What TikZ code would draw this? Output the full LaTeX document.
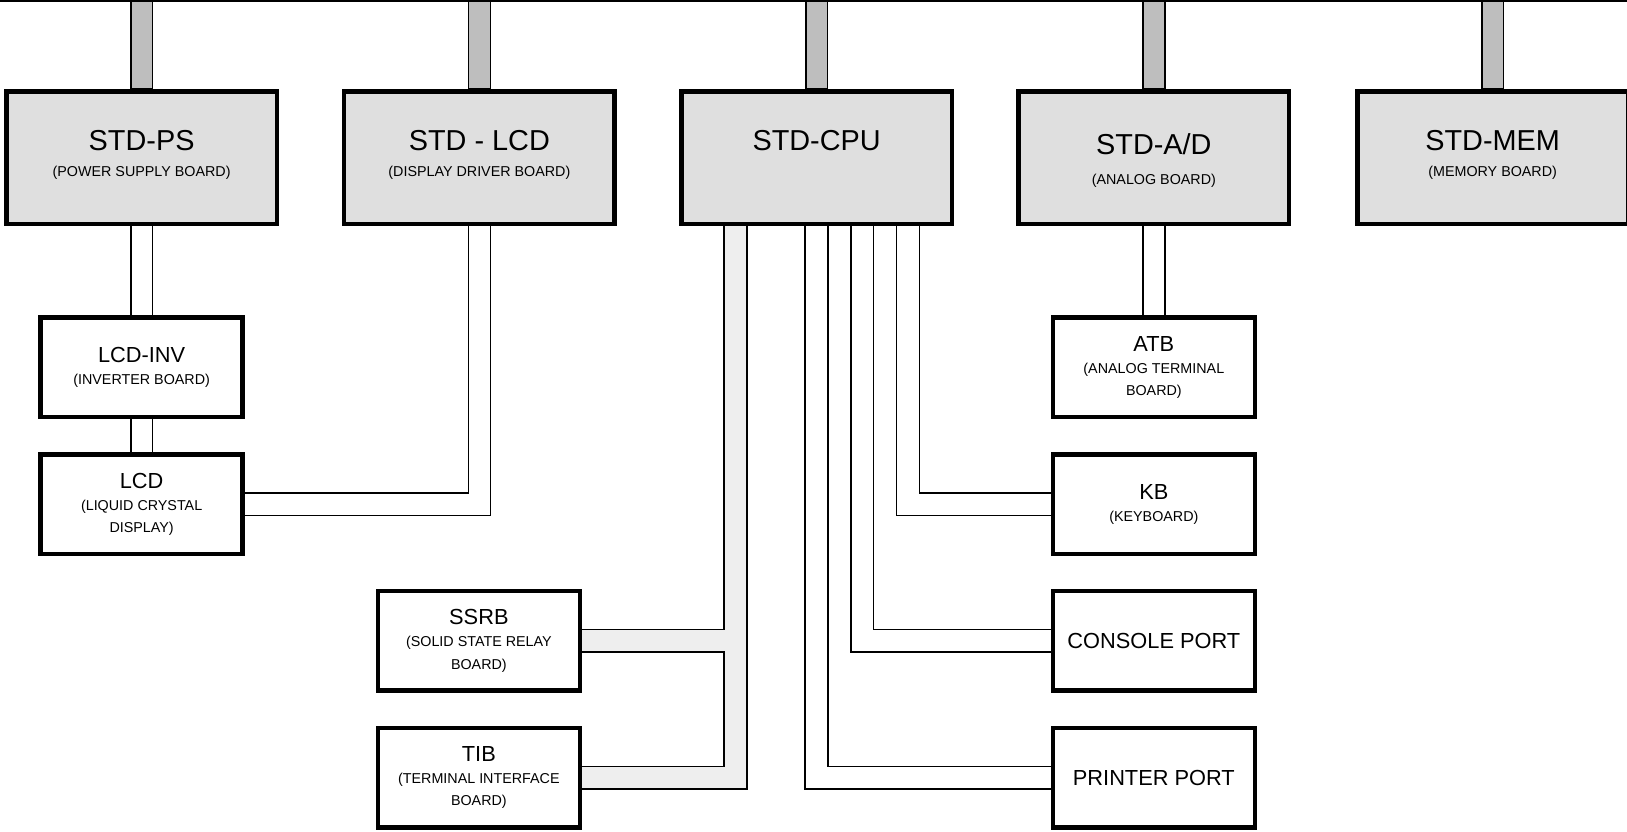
\documentclass[tikz,border=0pt]{standalone}
\usepackage{fontspec}
\setmainfont{Liberation Sans}
\usepackage{xcolor}
\usetikzlibrary{calc, backgrounds}
\definecolor{boardgray}{RGB}{223, 223, 223}
\definecolor{slotgray}{RGB}{190, 190, 190}
\definecolor{busgray}{RGB}{238, 238, 238}
\newcommand{\cardsub}[1]{{\fontsize{6.9}{10.7}\selectfont #1}}

\begin{document}
\begin{tikzpicture}[
  x=0.5pt, y=-0.5pt,
  board/.style={rectangle, draw, line width=2.2pt, fill=boardgray,
                minimum width=130.3pt, minimum height=63.8pt, inner sep=0pt},
  card/.style={rectangle, draw, line width=2.2pt, fill=white,
               minimum width=97.3pt, minimum height=47.8pt, inner sep=0pt,
               align=center, font={\fontsize{10.5}{10.7}\selectfont}},
  btitle/.style={anchor=base, inner sep=0pt, font={\fontsize{13.9}{14}\selectfont}},
  bsub/.style={anchor=base, inner sep=0pt, font={\fontsize{6.9}{8}\selectfont}},
  wire/.style={line width=0.75pt},
  slot/.style={draw, line width=0.75pt, fill=slotgray}
]
  \useasboundingbox (0,0) rectangle (1568,801);

  %% STD bus boards
  \node[board] (ps)  at (136.5,152) {};
  \node[board] (drv) at (462,152)   {};
  \node[board] (cpu) at (787,152)   {};
  \node[board] (ad)  at (1112,152)  {};
  \node[board] (mem) at (1438.5,152) {};

  \node[btitle] (psT)  at ([yshift=3.7pt]ps.center)   {STD-PS};
  \node[bsub]   (psS)  at ([yshift=-9.15pt]ps.center) {(POWER SUPPLY BOARD)};
  \node[btitle] (drvT) at ([yshift=3.7pt]drv.center)  {STD - LCD};
  \node[bsub]   (drvS) at ([yshift=-9.15pt]drv.center) {(DISPLAY DRIVER BOARD)};
  \node[btitle] (cpuT) at ([yshift=3.7pt]cpu.center)  {STD-CPU};
  \node[btitle] (adT)  at ([yshift=1.45pt]ad.center)  {STD-A/D};
  \node[bsub]   (adS)  at ([yshift=-12.9pt]ad.center) {(ANALOG BOARD)};
  \node[btitle] (memT) at ([yshift=3.7pt]mem.center)  {STD-MEM};
  \node[bsub]   (memS) at ([yshift=-9.15pt]mem.center) {(MEMORY BOARD)};

  %% Attached cards
  \node[card] (inv)  at (136.5,354)   {LCD-INV\\\cardsub{(INVERTER BOARD)}};
  \node[card] (lcd)  at (136.5,486)   {LCD\\\cardsub{(LIQUID CRYSTAL}\\\cardsub{DISPLAY)}};
  \node[card] (ssrb) at (461.5,617.5) {SSRB\\\cardsub{(SOLID STATE RELAY}\\\cardsub{BOARD)}};
  \node[card] (tib)  at (461.5,749.5) {TIB\\\cardsub{(TERMINAL INTERFACE}\\\cardsub{BOARD)}};
  \node[card] (atb)  at (1112,354)    {ATB\\\cardsub{(ANALOG TERMINAL}\\\cardsub{BOARD)}};
  \node[card] (kb)   at (1112,486)    {KB\\\cardsub{(KEYBOARD)}};
  \node[card] (con)  at (1112,617.5)  {CONSOLE PORT};
  \node[card] (prn)  at (1112,749.5)  {PRINTER PORT};

  %% Backplane
  \coordinate (topL) at (0,1);
  \coordinate (topR) at (1568,1);
  \draw[wire] (topL) -- (topR);

  \coordinate (busL)  at ([xshift=-44.5pt]cpu.south);
  \coordinate (busR)  at ([xshift=-33.5pt]cpu.south);
  \coordinate (ssrbU) at ([yshift=5.5pt]ssrb.east);
  \coordinate (ssrbD) at ([yshift=-5.5pt]ssrb.east);
  \coordinate (tibU)  at ([yshift=5.5pt]tib.east);
  \coordinate (tibD)  at ([yshift=-5.5pt]tib.east);

  \begin{scope}[on background layer]
    \draw[slot] ([xshift=-5.25pt]ps.north)  rectangle ++(10.5pt,43.5pt);
    \draw[slot] ([xshift=-5.25pt]drv.north) rectangle ++(10.5pt,43.5pt);
    \draw[slot] ([xshift=-5.25pt]cpu.north) rectangle ++(10.5pt,43.5pt);
    \draw[slot] ([xshift=-5.25pt]ad.north)  rectangle ++(10.5pt,43.5pt);
    \draw[slot] ([xshift=-5.25pt]mem.north) rectangle ++(10.5pt,43.5pt);
    \fill[busgray] (busL) |- (ssrbU) -- (ssrbD) -| (busL |- tibU)
      -- (tibU) -- (tibD) -| (busR) -- cycle;
  \end{scope}

  %% Ribbon cables
  \draw[wire] ([xshift=-5.25pt]ps.south)  -- ([xshift=-5.25pt]inv.north);
  \draw[wire] ([xshift=5.25pt]ps.south)   -- ([xshift=5.25pt]inv.north);
  \draw[wire] ([xshift=-5.25pt]inv.south) -- ([xshift=-5.25pt]lcd.north);
  \draw[wire] ([xshift=5.25pt]inv.south)  -- ([xshift=5.25pt]lcd.north);
  \draw[wire] ([xshift=-5.25pt]drv.south) |- ([yshift=5.5pt]lcd.east);
  \draw[wire] ([xshift=5.25pt]drv.south)  |- ([yshift=-5.5pt]lcd.east);
  \draw[wire] ([xshift=-5.25pt]ad.south)  -- ([xshift=-5.25pt]atb.north);
  \draw[wire] ([xshift=5.25pt]ad.south)   -- ([xshift=5.25pt]atb.north);

  \draw[wire] (busL) |- (ssrbU);
  \draw[wire] (ssrbD) -| (busL |- tibU) -- (tibU);
  \draw[wire] (busR) |- (tibD);

  \draw[wire] ([xshift=49.5pt]cpu.south) |- ([yshift=5.5pt]kb.west);
  \draw[wire] ([xshift=38.5pt]cpu.south) |- ([yshift=-5.5pt]kb.west);
  \draw[wire] ([xshift=27.5pt]cpu.south) |- ([yshift=5.5pt]con.west);
  \draw[wire] ([xshift=16.5pt]cpu.south) |- ([yshift=-5.5pt]con.west);
  \draw[wire] ([xshift=5.5pt]cpu.south)  |- ([yshift=5.5pt]prn.west);
  \draw[wire] ([xshift=-5.5pt]cpu.south) |- ([yshift=-5.5pt]prn.west);
\end{tikzpicture}
\end{document}
